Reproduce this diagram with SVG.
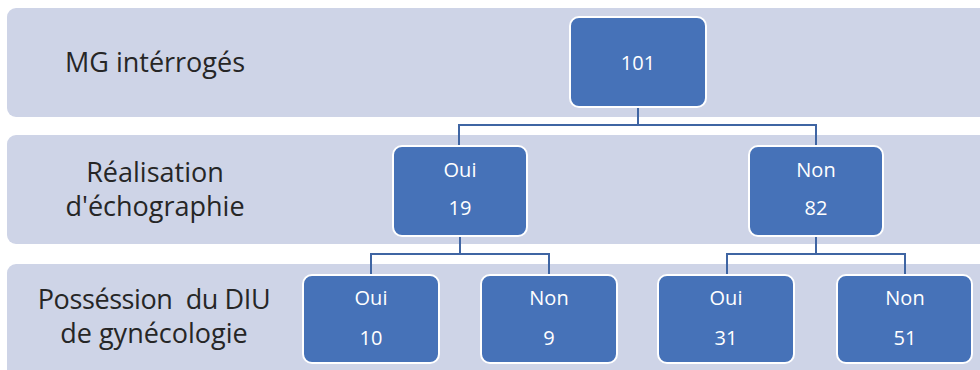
<svg xmlns="http://www.w3.org/2000/svg" width="980" height="370" viewBox="0 0 980 370">
<style>
.band{fill:#CED4E7;}
.node rect{fill:#4672B8;stroke:#FFFFFF;stroke-width:2;}
.node text{fill:#FFFFFF;font-family:"Open Sans",Lato,sans-serif;font-size:20px;text-anchor:middle;}
.lbl{fill:#262626;font-family:"Open Sans",Lato,sans-serif;font-size:27px;text-anchor:middle;white-space:pre;}
.conn{fill:none;stroke:#3F65A3;stroke-width:2;}
</style>
<rect width="980" height="370" fill="#FFFFFF"/>
<g id="bands">
<rect class="band" x="7" y="8" width="985" height="109" rx="9"/>
<rect class="band" x="7" y="135" width="985" height="109" rx="9"/>
<rect class="band" x="7" y="264" width="985" height="114" rx="9"/>
</g>
<g id="labels">
<text class="lbl" x="155" y="72">MG intérrogés</text>
<text class="lbl" x="155" y="182">Réalisation</text>
<text class="lbl" x="155" y="216">d'échographie</text>
<text class="lbl" x="154" y="309" letter-spacing="-0.4" xml:space="preserve">Posséssion  du DIU</text>
<text class="lbl" x="154" y="343">de gynécologie</text>
</g>
<g id="connectors">
<path class="conn" d="M638 107 V125 M459 146 V125 H816 V146"/>
<path class="conn" d="M460 236 V254 M371 275 V254 H549 V275"/>
<path class="conn" d="M816 236 V254 M727 275 V254 H905 V275"/>
</g>
<g id="n101" class="node"><rect x="570" y="17" width="136" height="90" rx="9"/><text x="638" y="70">101</text></g>
<g id="nOui19" class="node"><rect x="393" y="146" width="134" height="90" rx="9"/><text x="460" y="177">Oui</text><text x="460" y="215">19</text></g>
<g id="nNon82" class="node"><rect x="749" y="146" width="134" height="90" rx="9"/><text x="816" y="177">Non</text><text x="816" y="215">82</text></g>
<g id="nOui10" class="node"><rect x="303" y="275" width="136" height="88" rx="9"/><text x="371" y="305">Oui</text><text x="371" y="345">10</text></g>
<g id="nNon9" class="node"><rect x="481" y="275" width="136" height="88" rx="9"/><text x="549" y="305">Non</text><text x="549" y="345">9</text></g>
<g id="nOui31" class="node"><rect x="658" y="275" width="136" height="88" rx="9"/><text x="726" y="305">Oui</text><text x="726" y="345">31</text></g>
<g id="nNon51" class="node"><rect x="837" y="275" width="135" height="88" rx="9"/><text x="905" y="305">Non</text><text x="905" y="345">51</text></g>
</svg>
